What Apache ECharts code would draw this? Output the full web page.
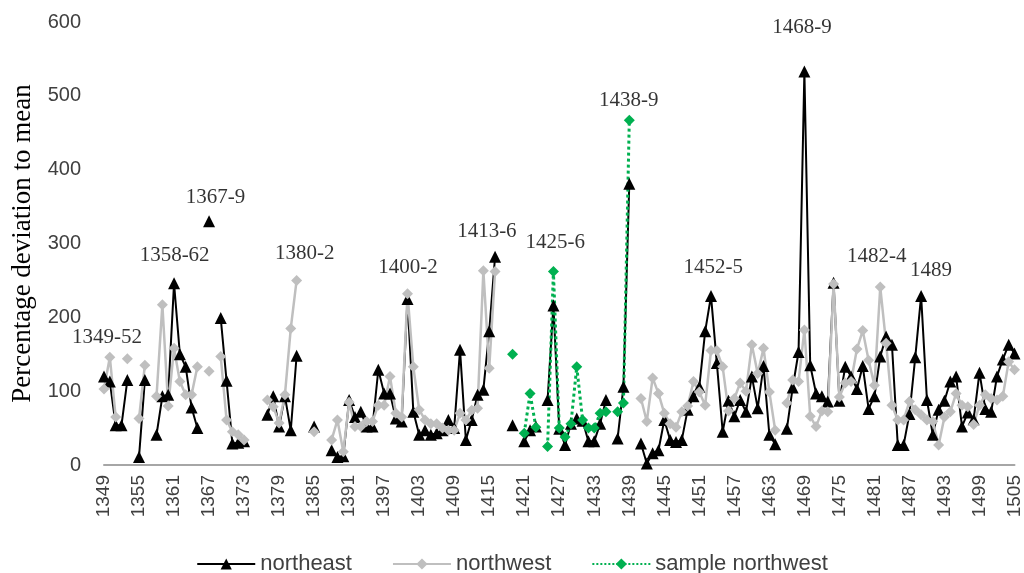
<!DOCTYPE html>
<html>
<head>
<meta charset="utf-8">
<script src="https://cdn.jsdelivr.net/npm/echarts@6/dist/echarts.min.js"></script>
<style>
html,body{margin:0;padding:0;background:#fff;}
#chart{width:1024px;height:573px;}
</style>
</head>
<body>
<div id="chart"></div>
<script>
// Years 1349..1505
const years = [];
for (let y = 1349; y <= 1505; y++) years.push(String(y));

const northeast = [
 120,113,54,54,115,null,11,115,null,41,   // 1349-1358
 93,95,246,150,133,78,50,null,330,null,   // 1359-1368
 199,114,29,30,32,null,null,null,68,93,   // 1369-1378
 52,93,47,148,null,null,52,null,null,20,  // 1379-1388
 11,12,88,65,72,52,52,129,97,97,          // 1389-1398
 63,59,225,72,41,47,41,43,47,61,          // 1399-1408
 50,156,34,61,95,102,181,282,null,null,   // 1409-1418
 54,null,32,47,52,null,88,216,49,27,      // 1419-1428
 56,63,60,32,32,56,88,null,36,106,        // 1429-1438
 381,null,29,2,16,20,61,34,31,34,         // 1439-1448
 75,93,106,181,229,138,45,87,66,88,       // 1449-1458
 72,120,77,134,41,28,null,49,105,153,     // 1459-1468
 533,135,97,93,86,247,87,133,120,103,     // 1469-1478
 134,76,93,147,174,163,27,27,69,146,      // 1479-1488
 229,88,41,75,87,113,120,52,71,62,        // 1489-1498
 125,76,72,120,143,163,151                // 1499-1505
];

const northwest = [
 103,146,65,null,144,null,63,135,null,93, // 1349-1358
 217,80,158,113,95,95,133,null,127,null,  // 1359-1368
 147,61,45,41,34,null,null,null,88,79,    // 1369-1378
 57,95,185,250,null,null,45,null,null,34, // 1379-1388
 61,18,85,52,52,59,59,81,81,120,          // 1389-1398
 70,65,232,133,75,61,56,56,50,47,         // 1399-1408
 47,70,61,74,77,263,131,262,null,null,    // 1409-1418
 null,null,null,null,null,null,null,null,null,null, // 1419-1428
 null,null,null,null,null,null,null,null,null,null, // 1429-1438
 null,null,90,59,118,97,70,56,51,72,      // 1439-1448
 80,113,99,81,155,155,133,73,90,111,      // 1449-1458
 100,163,124,158,99,47,null,84,115,113,   // 1459-1468
 183,66,52,73,72,245,92,111,113,157,      // 1469-1478
 182,142,108,241,165,81,61,61,86,75,      // 1479-1488
 68,61,59,27,65,72,97,81,79,55,           // 1489-1498
 81,95,90,88,93,140,129                   // 1499-1505
];

const sampleYears = ['1419','1420','1421','1422','1423','1424','1425','1426','1427','1428','1429','1430','1431','1432','1433','1434','1435','1436','1437','1438','1439'];
const sampleValues = [150,null,43,97,51,null,25,262,50,38,56,133,61,50,50,70,72,null,72,84,467];

const annoText = ['1349-52','1358-62','1367-9','1380-2','1400-2','1413-6','1425-6','1438-9','1452-5','1468-9','1482-4','1489'];
const annoYear = [1349.5,1361.1,1368.1,1383.4,1401.1,1414.6,1426.3,1438.9,1453.4,1468.6,1481.4,1490.7];
const annoValue = [173,284,363,287,267,316,302,494,267,592,283,264];

const yTicks = [0,100,200,300,400,500,600];

// build sample series aligned to full category axis
const sampleFull = years.map(y => {
  const k = sampleYears.indexOf(y);
  return k >= 0 ? sampleValues[k] : null;
});

const chart = echarts.init(document.getElementById('chart'), null, {renderer:'canvas'});
chart.setOption({
  animation: false,
  backgroundColor: '#ffffff',
  grid: {left: 104, right: 5, top: 22, bottom: 108, containLabel: false},
  xAxis: [{
    type: 'category',
    data: years,
    boundaryGap: false,
    axisLine: {show: true, lineStyle: {color: '#a6a6a6', width: 2}},
    axisTick: {show: false},
    axisLabel: {interval: 5, rotate: 90, fontSize: 19, color: '#404040', fontFamily: 'Liberation Sans', margin: 10},
    splitLine: {show: false}
  },{
    type: 'value', min: 1349, max: 1505, show: false
  }],
  yAxis: {
    type: 'value', min: yTicks[0], max: yTicks[yTicks.length-1], interval: 100,
    name: 'Percentage deviation to mean',
    nameLocation: 'middle', nameGap: 62, nameRotate: 90,
    nameTextStyle: {fontFamily: 'Liberation Serif', fontSize: 27, color: '#000'},
    axisLine: {show: false}, axisTick: {show: false}, splitLine: {show: false},
    axisLabel: {fontSize: 20, color: '#404040', fontFamily: 'Liberation Sans', margin: 23}
  },
  legend: {
    bottom: -7, left: 'center', itemWidth: 58, itemHeight: 14, itemGap: 40,
    textStyle: {fontSize: 22, color: '#404040', fontFamily: 'Liberation Sans'},
    data: ['northeast','northwest','sample northwest']
  },
  series: [{
    name: 'northeast', type: 'line', data: northeast, connectNulls: false,
    symbol: 'triangle', symbolSize: 12, showAllSymbol: true,
    itemStyle: {color: '#000'}, lineStyle: {color: '#000', width: 2}
  },{
    name: 'northwest', type: 'line', data: northwest, connectNulls: false,
    symbol: 'diamond', symbolSize: 11, showAllSymbol: true,
    itemStyle: {color: '#bfbfbf'}, lineStyle: {color: '#bfbfbf', width: 2.5}
  },{
    name: 'sample northwest', type: 'line', data: sampleFull, connectNulls: false,
    symbol: 'diamond', symbolSize: 11, showAllSymbol: true,
    itemStyle: {color: '#00b050'}, lineStyle: {color: '#00b050', width: 3, type: 'dotted'}
  },{
    name: 'annotations', type: 'scatter', xAxisIndex: 1, symbolSize: 0, silent: true,
    data: annoText.map((t,i) => ({name: t, value: [annoYear[i], annoValue[i]]})),
    label: {show: true, position: 'inside', formatter: p => p.name,
      fontFamily: 'Liberation Serif', fontSize: 21, color: '#000'}
  }]
});
</script>
</body>
</html>
